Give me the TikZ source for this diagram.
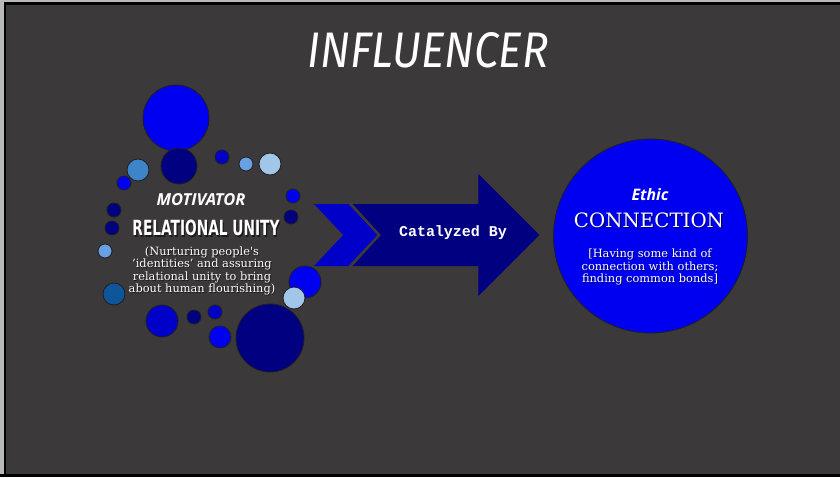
\documentclass[tikz,border=0pt]{standalone}
\usepackage{fontspec}
\setmainfont{DejaVu Serif}[Ligatures=TeXOff]
\newfontfamily\opensans{Open Sans}
\newfontfamily\heavysans{DejaVu Sans Condensed}
\newfontfamily\firasans{Fira Sans}
\newfontfamily\monofont{Liberation Mono}
\definecolor{bgcol}{RGB}{59,57,58}
\definecolor{bblue}{RGB}{0,0,240}
\definecolor{navyc}{RGB}{0,0,128}
\definecolor{medblue}{RGB}{0,0,200}
\definecolor{lightb}{RGB}{162,198,232}
\definecolor{skyb}{RGB}{104,160,226}
\definecolor{steelb}{RGB}{62,132,200}
\definecolor{dsteel}{RGB}{14,86,152}
\definecolor{rimc}{RGB}{30,30,34}
\begin{document}
\begin{tikzpicture}[x=1pt,y=-1pt,
  dot/.style={circle,draw=rimc,line width=0.8pt,inner sep=0pt},
  wtext/.style={text=white,align=center,inner sep=0pt},
  shtext/.style={text=black,text opacity=0.55,align=center,inner sep=0pt},
  descfont/.style={font=\fontsize{11.4}{12.2}\selectfont}]
\useasboundingbox (0,0) rectangle (840,477);
\fill[bgcol] (0,0) rectangle (840,477);
% frame
\fill[gray!55] (0,0) rectangle (4,477);
\fill[gray!55] (0,0) rectangle (840,2);
\fill[black] (4,2) rectangle (6,477);
\fill[black] (4,2) rectangle (840,5);
\fill[black] (0,474) rectangle (840,477);
% title
\node[wtext] (title) at (428,50) {\resizebox{241pt}{35pt}{\firasans\itshape INFLUENCER}};
% circles
\node[dot,fill=bblue,minimum size=66pt] (c1) at (176,118) {};
\node[dot,fill=navyc,minimum size=36pt] (c2) at (179,166) {};
\node[dot,fill=medblue,minimum size=14pt] (c3) at (222,157) {};
\node[dot,fill=skyb,minimum size=14pt] (c4) at (246,164) {};
\node[dot,fill=lightb,minimum size=22pt] (c5) at (270,164) {};
\node[dot,fill=steelb,minimum size=22pt] (c6) at (138,170) {};
\node[dot,fill=bblue,minimum size=14pt] (c7) at (124,183) {};
\node[dot,fill=bblue,minimum size=14pt] (c8) at (293,196) {};
\node[dot,fill=navyc,minimum size=14pt] (c9) at (291,217) {};
\node[dot,fill=navyc,minimum size=14pt] (c10) at (114,210) {};
\node[dot,fill=navyc,minimum size=14pt] (c11) at (112,228) {};
\node[dot,fill=skyb,minimum size=14pt] (c12) at (105,251) {};
\node[dot,fill=dsteel,minimum size=22pt] (c13) at (114,294) {};
\node[dot,fill=bblue,minimum size=32pt] (c14) at (305,282) {};
\node[dot,fill=lightb,minimum size=22pt] (c15) at (294,298) {};
\node[dot,fill=medblue,minimum size=32pt] (c16) at (162,321) {};
\node[dot,fill=navyc,minimum size=14pt] (c17) at (194,317) {};
\node[dot,fill=medblue,minimum size=14pt] (c18) at (215,312) {};
\node[dot,fill=bblue,minimum size=22pt] (c19) at (220,337) {};
\node[dot,fill=navyc,minimum size=68pt] (c20) at (270,338) {};
% left texts
\node[wtext] (motiv) at (201,200) {\resizebox{89pt}{!}{\opensans\bfseries\itshape MOTIVATOR}};
\node[shtext] (relunsh) at (207.2,229.4) {\resizebox{147pt}{15.5pt}{\heavysans\bfseries RELATIONAL UNITY}};
\node[wtext] (relun) at (206,228) {\resizebox{147pt}{15.5pt}{\heavysans\bfseries RELATIONAL UNITY}};
\node[shtext,descfont] (ldescsh) at (202.8,272) {(Nurturing people's\\‘identities’ and assuring\\relational unity to bring\\about human flourishing)};
\node[wtext,descfont] (ldesc) at (202,271) {(Nurturing people's\\‘identities’ and assuring\\relational unity to bring\\about human flourishing)};
% arrow
\fill[medblue] (314,204) -- (348.3,204) -- (377.3,235) -- (348.3,266) -- (314,266) -- (343.3,235) -- cycle;
\fill[navyc] (352.7,204) -- (478.3,204) -- (478.3,174) -- (539.3,235) -- (478.3,296) -- (478.3,266) -- (352.7,266) -- (381,235) -- cycle;
\node[wtext] (cat) at (453,233) {\resizebox{108pt}{!}{\monofont\bfseries Catalyzed By}};
% right circle
\node[dot,fill=bblue,minimum size=194pt] (big) at (650.5,236) {};
\node[wtext] (ethic) at (650,195) {\resizebox{37pt}{!}{\opensans\bfseries\itshape Ethic}};
\node[shtext] (connsh) at (650.2,221.4) {\resizebox{150pt}{!}{CONNECTION}};
\node[wtext] (conn) at (649,220) {\resizebox{150pt}{!}{CONNECTION}};
\node[shtext,descfont] (rdescsh) at (650.8,268) {[Having some kind of\\connection with others;\\finding common bonds]};
\node[wtext,descfont] (rdesc) at (650,267) {[Having some kind of\\connection with others;\\finding common bonds]};
\end{tikzpicture}
\end{document}
